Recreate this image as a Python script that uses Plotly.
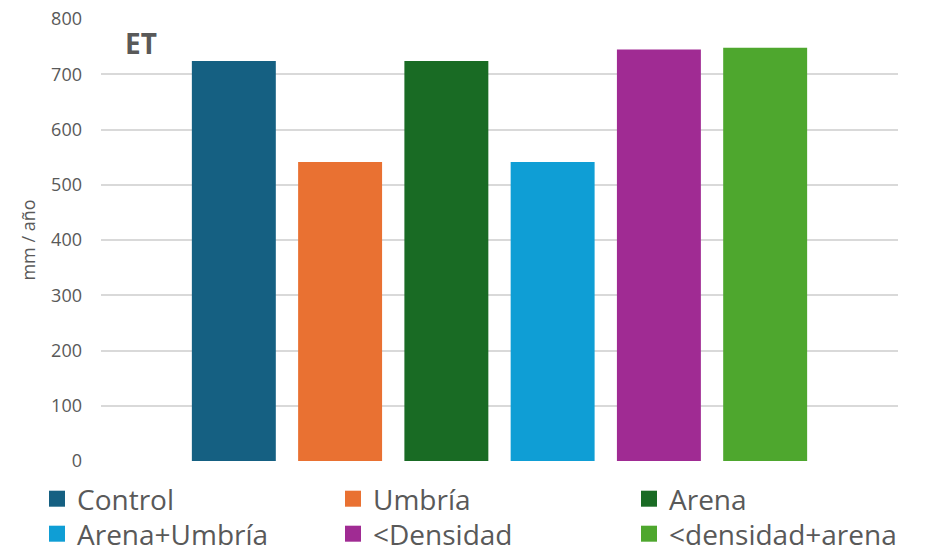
import plotly.graph_objects as go

# Evapotranspiración anual por tratamiento
tratamientos = ["Control", "Umbría", "Arena", "Arena+Umbría", "<Densidad", "<densidad+arena"]
et_mm = [724, 541, 724, 541, 745, 748]
colores = ["#156082", "#E97132", "#196B24", "#0F9ED5", "#A02B93", "#4EA72E"]
y_ticks = [0, 100, 200, 300, 400, 500, 600, 700, 800]

GRIS = "#595959"
FUENTE = "Open Sans"

# Posición de cada entrada de leyenda (columna, fila) en píxeles del lienzo
LEY_X = [37, 333, 629]
LEY_Y = [499, 534]

fig = go.Figure()

for nombre, valor, color in zip(tratamientos, et_mm, colores):
    fig.add_trace(go.Bar(
        x=["ET"], y=[valor], name=nombre,
        marker=dict(color=color, line=dict(width=0)),
        showlegend=False,
    ))

# Entradas de leyenda con cuadrados grandes: una leyenda por entrada
leyendas = {}
for i, (nombre, color) in enumerate(zip(tratamientos, colores)):
    clave = "legend" if i == 0 else f"legend{i + 1}"
    fig.add_trace(go.Scatter(
        x=[None], y=[None], mode="markers", name=nombre,
        marker=dict(symbol="square", size=16, color=color),
        legend=clave, hoverinfo="skip",
    ))
    leyendas[clave] = dict(
        orientation="h",
        xref="container", yref="container",
        x=LEY_X[i % 3] / 933, y=1 - LEY_Y[i // 3] / 547,
        xanchor="left", yanchor="middle",
        font=dict(family=FUENTE, size=28, color=GRIS),
        bgcolor="rgba(0,0,0,0)", borderwidth=0,
        itemclick=False, itemdoubleclick=False,
    )

fig.update_layout(
    width=933, height=547,
    margin=dict(l=101, r=35, t=19, b=86, autoexpand=False),
    paper_bgcolor="white", plot_bgcolor="white",
    font=dict(family=FUENTE, color=GRIS),
    barmode="group", bargap=0.2, bargroupgap=0.21,
    xaxis=dict(showticklabels=False, showgrid=False, zeroline=False,
               showline=False, ticks=""),
    yaxis=dict(
        range=[0, 800], tickvals=y_ticks,
        showgrid=True, gridcolor="#d9d9d9", gridwidth=1.5,
        zeroline=False, showline=False, ticks="",
        tickfont=dict(family=FUENTE, size=18, color=GRIS),
        ticklabelstandoff=18,
        title=dict(text="mm / año", font=dict(family=FUENTE, size=18, color=GRIS),
                   standoff=10),
    ),
    annotations=[dict(
        text="<b>ET</b>", xref="paper", yref="paper",
        x=22 / 797, y=1 - 3 / 442, xanchor="left", yanchor="top",
        showarrow=False, font=dict(family=FUENTE, size=28, color=GRIS),
    )],
    **leyendas,
)

fig.write_html("out.html")
